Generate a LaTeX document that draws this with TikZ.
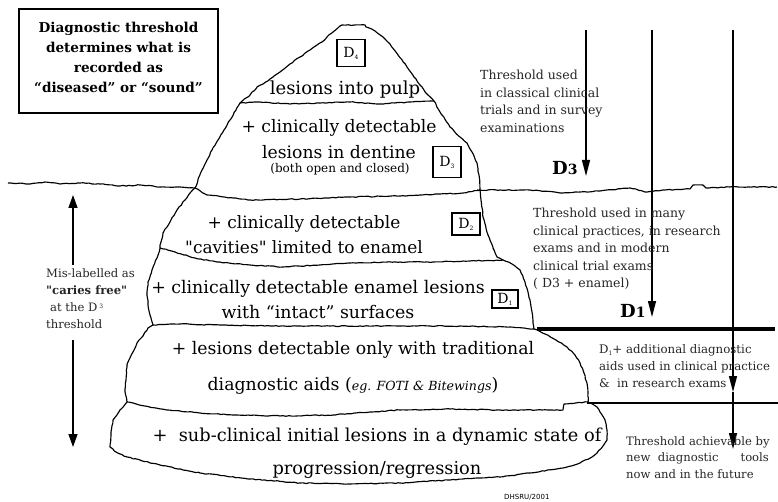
\documentclass[tikz,border=0pt]{standalone}
\usepackage{fontspec}
\setmainfont{DejaVu Serif}
\newfontfamily\sansf{DejaVu Sans}
\usetikzlibrary{arrows.meta,decorations.pathmorphing}
\newcommand\dsub[1]{\raisebox{-2pt}{\fontsize{6}{6}\selectfont #1}}
\begin{document}
\begin{tikzpicture}[x=1pt,y=-1pt,
  rough/.style={line width=1.15pt, line join=round, decorate,
    decoration={random steps,segment length=3pt,amplitude=0.45pt}},
  big/.style={font=\fontsize{17.4}{25}\selectfont, align=center, inner sep=0pt},
  note/.style={font=\fontsize{12.5}{17.5}\selectfont, align=left, inner sep=0pt, text=black!85, anchor=north west},
  dbox/.style={draw, line width=1.2pt, inner sep=0pt, font=\fontsize{14}{14}\selectfont},
  dlab/.style={font=\bfseries\fontsize{18}{18}\selectfont, anchor=base west, inner sep=0pt},
  varrow/.style={line width=1.3pt, -{Triangle[length=16pt,width=8pt]}},
  larrow/.style={line width=1.3pt, -{Triangle[length=13pt,width=9pt]}}]
\useasboundingbox (0,0) rectangle (778,502);
\pgfmathsetseed{7}

% title box
\node[draw, line width=1.2pt, minimum width=199pt, minimum height=104pt, inner sep=0pt] (box) at (118.5,61) {};
\node[font=\bfseries\fontsize{13.6}{20}\selectfont, align=center, inner sep=0pt] (boxtxt) at (118.5,57)
  {Diagnostic threshold\\determines what is\\recorded as\\“diseased” or “sound”};

% water line
\draw[rough] (8,183) -- (30,184) -- (45,182) -- (60,184) -- (80,183) -- (100,184) -- (120,186) -- (140,185) -- (160,187) -- (180,187) -- (195,188);
\draw[rough] (477,190) -- (500,190) -- (530,190) -- (563,193) -- (600,191) -- (630,188) -- (647,192) -- (663,190) -- (690,189) -- (693,185) -- (703,185) -- (706,188) -- (730,187) -- (777,187);

% layer 1 (tip)
\draw[rough] (240,103) -- (246,98) -- (250,95) -- (257,87) -- (263,84) -- (270,79) -- (280,72) -- (290,64) -- (300,57) -- (310,50) -- (317,45) -- (322,42) -- (327,37) -- (333,32) -- (340,26) -- (342,25) -- (365,25) -- (366,27) -- (375,31) -- (383,37) -- (390,44) -- (398,55) -- (407,67) -- (414,77) -- (420,85) -- (428,95) -- (434,101);
\draw[rough] (240,103) -- (260,102) -- (290,104) -- (320,103) -- (350,102) -- (380,104) -- (410,102) -- (434,101);
% layer 2
\draw[rough] (240,103) -- (236,110) -- (230,120) -- (224,130) -- (218,140) -- (212,150) -- (207,160) -- (202,170) -- (198,180) -- (195,188);
\draw[rough] (434,101) -- (440,112) -- (450,127) -- (460,137) -- (467,143) -- (472,152) -- (477,163) -- (479,175) -- (480,190);
\draw[rough] (195,188) -- (207,195) -- (233,198) -- (250,200) -- (300,199) -- (350,197) -- (400,196) -- (420,195) -- (463,193) -- (480,190);
% layer 3
\draw[rough] (195,188) -- (190,193) -- (185,200) -- (177,210) -- (170,222) -- (163,233) -- (161,242) -- (160,248);
\draw[rough] (480,190) -- (481,200) -- (483,217) -- (488,235) -- (493,248) -- (497,257) -- (503,260);
\draw[rough] (160,248) -- (175,252) -- (195,258) -- (217,262) -- (250,265) -- (283,267) -- (320,265) -- (350,263) -- (400,262) -- (433,262) -- (470,261) -- (503,260);
% layer 4
\draw[rough] (160,248) -- (157,258) -- (152,270) -- (148,282) -- (147,292) -- (148,305) -- (150,315) -- (153,325);
\draw[rough] (503,260) -- (512,264) -- (520,270) -- (525,282) -- (528,292) -- (530,300) -- (532,312) -- (533,323) -- (534,329);
\draw[rough] (153,325) -- (180,324) -- (220,325) -- (270,326) -- (330,326) -- (400,326) -- (460,326) -- (510,327) -- (534,329);
% layer 5
\draw[rough] (153,325) -- (148,328) -- (143,336) -- (137,343) -- (133,352) -- (128,362) -- (127,367) -- (126,380) -- (125,392) -- (127,402);
\draw[rough] (534,329) -- (545,334) -- (556,340) -- (567,347) -- (575,355) -- (580,363) -- (584,373) -- (587,383) -- (588,393) -- (588,402);
\draw[rough] (127,402) -- (145,406) -- (167,410) -- (200,413) -- (233,415) -- (280,416) -- (333,415) -- (370,412) -- (400,410) -- (450,409) -- (500,410) -- (563,410) -- (564,404) -- (588,402);
% layer 6
\draw[rough] (127,402) -- (120,410) -- (113,420) -- (111,432) -- (110,447) -- (116,452) -- (127,457) -- (160,465) -- (200,473) -- (250,479) -- (300,483) -- (350,484) -- (400,483) -- (450,480) -- (500,477) -- (530,473) -- (563,468) -- (580,463) -- (592,457) -- (597,453) -- (603,446) -- (607,440) -- (607,430) -- (605,420) -- (600,412) -- (597,407) -- (588,402);

% layer texts
\node[big, font=\fontsize{18}{25}\selectfont] (t1) at (345,90) {lesions into pulp};
\node[dbox, minimum width=28pt, minimum height=27pt] (d4) at (351,53) {D\dsub{4}};
\node[big, font=\fontsize{17.2}{26}\selectfont] (t2) at (339,139) {+ clinically detectable\\lesions in dentine};
\node[font=\fontsize{12}{13}\selectfont, inner sep=0pt] (t2b) at (340,169) {(both open and closed)};
\node[dbox, minimum width=28pt, minimum height=31pt] (d3) at (447,162) {D\dsub{3}};
\node[big, font=\fontsize{17}{25}\selectfont] (t3) at (304,235) {+ clinically detectable\\\textquotedbl cavities\textquotedbl\ limited to enamel};
\node[dbox, minimum width=28pt, minimum height=22pt] (d2) at (466,224) {D\dsub{2}};
\node[big] (t4) at (318,300) {+ clinically detectable enamel lesions\\with “intact” surfaces};
\node[dbox, minimum width=26pt, minimum height=18pt] (d1) at (505,299) {D\dsub{1}};
\node[big, font=\fontsize{17.3}{36}\selectfont] (t5) at (353,368) {+ lesions detectable only with traditional\\diagnostic aids ({\fontsize{12.6}{13}\selectfont\itshape eg. FOTI \& Bitewings})};
\node[big, font=\fontsize{17.8}{33}\selectfont] (t6) at (377,453) {+\ \ sub-clinical initial lesions in a dynamic state of\\progression/regression};

% thresholds
\coordinate (v1t) at (586,30); \coordinate (v1b) at (586,176);
\coordinate (v2t) at (652,30); \coordinate (v2b) at (652,317);
\coordinate (v3t) at (733,30); \coordinate (v3m) at (733,392); \coordinate (v3b) at (733,449);
\coordinate (h1a) at (537,329); \coordinate (h1b) at (775,329);
\coordinate (h2a) at (587,403); \coordinate (h2b) at (778,403);
\draw[line width=4pt] (h1a) -- (h1b);
\draw[line width=2pt] (h2a) -- (h2b);
\draw[varrow] (v1t) -- (v1b);
\draw[varrow] (v2t) -- (v2b);
\draw[varrow] (v3t) -- (v3m);
\draw[varrow] (v3m) -- (v3b);

\node[dlab] (d3lab) at (552,175) {D{\fontsize{14}{14}\selectfont 3}};
\node[dlab] (d1lab) at (620,317) {D{\fontsize{14}{14}\selectfont 1}};

\node[note] (n1) at (480,70) {Threshold used\\in classical clinical\\trials and in survey\\examinations};
\node[note] (n2) at (533,208) {Threshold used in many\\clinical practices, in research\\exams and in modern\\clinical trial exams\\( D3 + enamel)};
\node[note, font=\fontsize{11.8}{17}\selectfont] (n3) at (599,344) {D\dsub{1}+ additional diagnostic\\aids used in clinical practice\\\&\ \ in research exams};
\node[note, font=\fontsize{11.6}{16.5}\selectfont] (n4) at (626,436) {Threshold achievable by\\new\ \ diagnostic\hspace*{22pt}tools\\now and in the future};

% mis-labelled
\coordinate (la1s) at (73,265); \coordinate (la1t) at (73,195);
\coordinate (la2s) at (73,340); \coordinate (la2t) at (73,447);
\draw[larrow] (la1s) -- (la1t);
\draw[larrow] (la2s) -- (la2t);
\node[note, font=\fontsize{11.6}{17.3}\selectfont] (mis) at (46,268) {Mis-labelled as\\\textbf{\textquotedbl caries free\textquotedbl}\\\hspace*{4pt}at the D\,\raisebox{3pt}{\fontsize{6}{6}\selectfont 3}\\threshold};

\node[font=\sansf\fontsize{7}{7}\selectfont, inner sep=0pt, anchor=base west] (sig) at (504,499) {DHSRU/2001};
\end{tikzpicture}
\end{document}
